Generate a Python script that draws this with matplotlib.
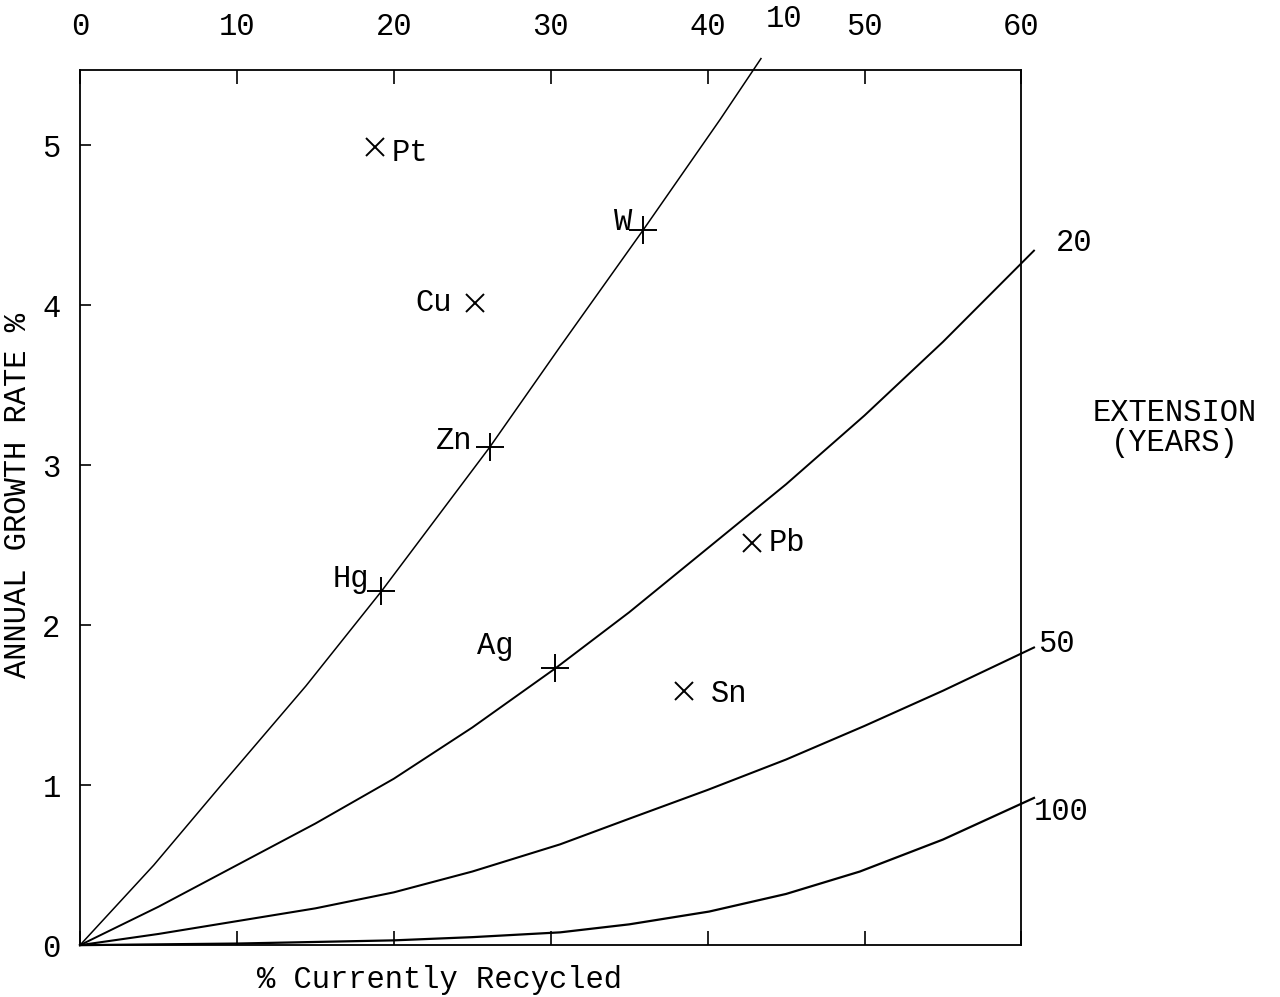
import matplotlib
matplotlib.use('Agg')
import matplotlib.pyplot as plt

plt.rcParams['font.family'] = ['Liberation Mono', 'DejaVu Sans Mono']

# extension curves (years)
ext_labels = ['10', '20', '50', '100']
x_10 = [0, 4.7, 9.0, 14.4, 19.2, 26.1, 30.6, 35.9, 40.8, 43.4]
y_10 = [0, 0.5, 1.0, 1.62, 2.21, 3.11, 3.74, 4.47, 5.16, 5.54]
x_20 = [0, 5, 10, 15, 20, 25, 30.3, 35, 40, 45, 50, 55, 60.8]
y_20 = [0, 0.24, 0.50, 0.76, 1.04, 1.36, 1.73, 2.08, 2.48, 2.88, 3.31, 3.77, 4.34]
x_50 = [0, 5, 10, 15, 20, 25, 30.6, 35, 40, 45, 50, 55, 60.8]
y_50 = [0, 0.07, 0.15, 0.23, 0.33, 0.46, 0.63, 0.79, 0.97, 1.16, 1.37, 1.59, 1.86]
x_100 = [0, 10, 15, 20, 25, 30.6, 35, 40.1, 45, 49.7, 55, 60.8]
y_100 = [0, 0.01, 0.02, 0.03, 0.05, 0.08, 0.13, 0.21, 0.32, 0.46, 0.66, 0.92]

# metals: % currently recycled, annual growth rate %
metals = ['Pt', 'Cu', 'W', 'Zn', 'Hg', 'Ag', 'Pb', 'Sn']
recycled = [18.8, 25.2, 35.9, 26.1, 19.2, 30.3, 42.8, 38.5]
growth = [4.99, 4.01, 4.47, 3.11, 2.21, 1.73, 2.51, 1.59]
on_curve = [False, False, True, True, True, True, False, False]
# label offsets in pixels
lab_dx = [35, -42, -20, -35, -30, -60, 35, 45]
lab_dy = [-6, 0, 8, 6, 12, 22, 0, -3]

top_ticks = [0, 10, 20, 30, 40, 50, 60]
left_ticks = [0, 1, 2, 3, 4, 5]

fig = plt.figure(figsize=(12.8, 9.97), dpi=100)
ax = fig.add_axes([0.0625, 0.052, 0.7355, 0.878])
ax.set_xlim(0, 60)
ax.set_ylim(0, 5.47)

curves = [(x_10, y_10), (x_20, y_20), (x_50, y_50), (x_100, y_100)]
widths = [1.1, 1.4, 1.5, 1.6]
end_off = [(23, 40), (40, 8), (22, 3), (27, -14)]
for (xs, ys), lab, lw, off in zip(curves, ext_labels, widths, end_off):
    ax.plot(xs, ys, color='black', lw=lw, clip_on=False)
    ax.annotate(lab, (xs[-1], ys[-1]), xytext=off, textcoords='offset pixels',
                ha='center', va='center', fontsize=22, annotation_clip=False)

for m, x, y, oc, dx, dy in zip(metals, recycled, growth, on_curve, lab_dx, lab_dy):
    ax.plot(x, y, marker='+' if oc else 'x', color='black', ms=20 if oc else 13, mew=1.4)
    ax.annotate(m, (x, y), xytext=(dx, dy), textcoords='offset pixels',
                ha='center', va='center', fontsize=22)

for s in ax.spines.values():
    s.set_linewidth(1.3)

ax.xaxis.tick_top()
ax.set_xticks(top_ticks)
ax.set_xticklabels([str(t) for t in top_ticks])
ax.tick_params(axis='x', which='both', direction='in', length=10, width=1.2,
               pad=20, labelsize=22, top=True, bottom=True, labelbottom=False)
ax.set_yticks(left_ticks)
ax.tick_params(axis='y', direction='in', length=8, width=1.2, pad=14, labelsize=22)

fig.text(0.014, 0.503, 'ANNUAL GROWTH RATE %', rotation=90, ha='center', va='center', fontsize=22)
fig.text(0.343, 0.017, '% Currently Recycled', ha='center', va='center', fontsize=22)
fig.text(0.918, 0.571, 'EXTENSION\n(YEARS)', ha='center', va='center', fontsize=22, linespacing=1.0)

fig.savefig('out.png', dpi=100)
